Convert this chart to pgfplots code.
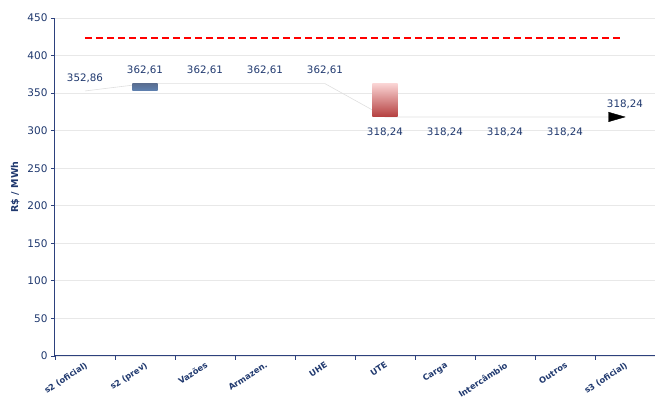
\documentclass[border=0pt]{standalone}
\usepackage{pgfplots}
\pgfplotsset{compat=1.18}
\usepackage{fontspec}
\setmainfont{DejaVu Sans}
\definecolor{txt}{RGB}{31,56,110}
\definecolor{axc}{RGB}{45,65,125}
\definecolor{bt}{RGB}{90,110,145}
\definecolor{bm}{RGB}{220,232,246}
\definecolor{bb}{RGB}{95,130,178}
\definecolor{rt}{RGB}{250,212,212}
\definecolor{rm}{RGB}{215,125,125}
\definecolor{rb}{RGB}{180,62,62}
\begin{document}
\begin{tikzpicture}
\begin{axis}[name=ax, scale only axis, width=600pt, height=338pt,
  xmin=-0.5, xmax=9.5, ymin=0, ymax=450,
  axis x line*=bottom, axis y line*=left,
  axis line style={axc, line width=1pt},
  ytick={0,50,...,450}, ymajorgrids, grid style={gray!18, line width=0.8pt},
  xtick={0,...,9},
  xticklabels={s2 (oficial), s2 (prev), Vazões, Armazen., UHE, UTE, Carga, Intercâmbio, Outros, s3 (oficial)},
  major x tick style={draw=none},
  minor xtick={-0.5,0.5,...,8.5}, minor x tick style={axc, line width=0.8pt},
  y tick style={axc, line width=0.8pt},
  tick align=outside, major tick length=4pt, minor tick length=4pt,
  xticklabel style={rotate=33, anchor=north east, font=\bfseries\fontsize{8.3}{10}\selectfont, text=txt, inner sep=1pt, yshift=0pt},
  yticklabel style={font=\fontsize{10.5}{12}\selectfont, text=txt},
  ylabel={R\$ / MWh}, ylabel style={font=\bfseries\fontsize{9.5}{11}\selectfont, text=txt, yshift=1pt},
  /pgf/number format/assume math mode=true,
  clip=false]
% connecting line
\addplot[gray!25, line width=0.6pt, mark=none] coordinates {(0,352.86)(1,362.61)(2,362.61)(3,362.61)(4,362.61)(5,318.24)(6,318.24)(7,318.24)(8,318.24)(9,318.24)};
% red dashed reference line
\addplot[red, line width=1.8pt, dash pattern=on 7pt off 4pt, mark=none] coordinates {(0,423)(8.92,423)};
% bars
\addplot[draw=none, top color=bt, middle color=bm, bottom color=bb, mark=none] coordinates {(0.79,352.86)(1.21,352.86)(1.21,362.61)(0.79,362.61)} -- cycle;
\addplot[draw=none, top color=rt, middle color=rm, bottom color=rb, mark=none] coordinates {(4.79,318.24)(5.21,318.24)(5.21,362.61)(4.79,362.61)} -- cycle;
% arrow marker
\addplot[only marks, mark=triangle*, mark size=5.5pt, mark options={xshift=-11pt, xscale=2, rotate=-90, black, fill=black}] coordinates {(9,318.24)};
% labels above
\addplot[draw=none, mark=none, nodes near coords, point meta=explicit symbolic,
  nodes near coords style={font=\fontsize{10.3}{12}\selectfont, text=txt, anchor=center, yshift=13pt}]
  coordinates {(0,352.86)[352{,}86] (1,362.61)[362{,}61] (2,362.61)[362{,}61] (3,362.61)[362{,}61] (4,362.61)[362{,}61] (9,318.24)[318{,}24]};
% labels below
\addplot[draw=none, mark=none, nodes near coords, point meta=explicit symbolic,
  nodes near coords style={font=\fontsize{10.3}{12}\selectfont, text=txt, anchor=center, yshift=-15pt}]
  coordinates {(5,318.24)[318{,}24] (6,318.24)[318{,}24] (7,318.24)[318{,}24] (8,318.24)[318{,}24]};
\end{axis}
\pgfresetboundingbox
\path ([shift={(-55pt,-45pt)}]ax.south west) rectangle ([yshift=18pt]ax.north east);
\end{tikzpicture}
\end{document}
